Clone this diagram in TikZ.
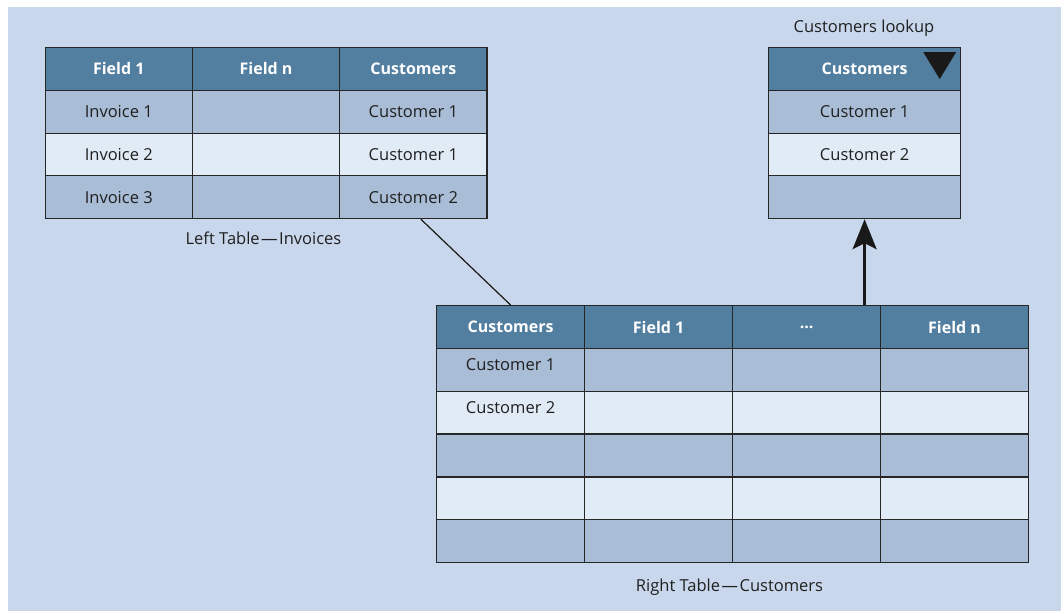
\documentclass[tikz,border=0pt]{standalone}
\usepackage{fontspec}
\setmainfont{Open Sans}
\usetikzlibrary{arrows.meta,calc}
\definecolor{bgblue}{HTML}{C8D7EC}
\definecolor{headblue}{HTML}{527EA0}
\definecolor{rowdark}{HTML}{A9BDD6}
\definecolor{rowlight}{HTML}{E1EBF5}
\definecolor{gridline}{HTML}{262626}
\newcommand\threedots{...}
\newcommand\capdash{\kern1.5pt—\kern1.5pt}
\tikzset{
  cell/.style={draw=gridline, line width=1.2pt, anchor=north west, inner sep=0pt,
    font=\fontsize{16.5}{19}\selectfont, text=black!88},
  headcell/.style={cell, fill=headblue, text=white, font=\fontsize{16}{19}\selectfont\bfseries},
  darkcell/.style={cell, fill=rowdark},
  lightcell/.style={cell, fill=rowlight},
  caption/.style={font=\fontsize{16.5}{19}\selectfont, text=black!88, inner sep=0pt},
}
\begin{document}
\begin{tikzpicture}[x=1pt,y=-1pt]
\useasboundingbox (0,0) rectangle (1061,611);
\fill[bgblue] (8,7) rectangle (1061,611);

% Left table: invoices
\foreach \c/\t [count=\i] in {0/Field 1,1/Field n,2/Customers}
  \node[headcell, minimum width=147.3pt, minimum height=42.75pt] (L1\i) at (44.5+147.3*\c,47) {\t};
\foreach \r/\s [count=\j from 2] in {1/darkcell,2/lightcell,3/darkcell}
  \foreach \c [count=\i] in {0,1,2}
    \node[\s, minimum width=147.3pt, minimum height=42.75pt] (L\j\i) at (44.5+147.3*\c,47+42.75*\r) {};
\node[caption] (li1) at (L21) {Invoice 1};
\node[caption] (li2) at (L31) {Invoice 2};
\node[caption] (li3) at (L41) {Invoice 3};
\node[caption] (lc1) at (L23) {Customer 1};
\node[caption] (lc2) at (L33) {Customer 1};
\node[caption] (lc3) at (L43) {Customer 2};
\node[caption] (lcap) at (263.5,238) {Left Table\capdash Invoices};

% Lookup list
\node[headcell, minimum width=192pt, minimum height=42.75pt] (K1) at (768,47) {Customers};
\node[darkcell, minimum width=192pt, minimum height=42.75pt] (K2) at (768,89.75) {Customer 1};
\node[lightcell, minimum width=192pt, minimum height=42.75pt] (K3) at (768,132.5) {Customer 2};
\node[darkcell, minimum width=192pt, minimum height=42.75pt] (K4) at (768,175.25) {};
\node[caption] (kcap) at (864,28) {Customers lookup};
\fill[black!90] ([shift={(-38,5)}]K1.north east) -- ([shift={(-5,5)}]K1.north east)
  -- ([shift={(-21.5,32)}]K1.north east) -- cycle;

% Right table: customers
\foreach \c/\t [count=\i] in {0/Customers,1/Field 1,2/\threedots,3/Field n}
  \node[headcell, minimum width=148pt, minimum height=42.83pt] (R1\i) at (436+148*\c,305) {\t};
\foreach \r/\s [count=\j from 2] in {1/darkcell,2/lightcell,3/darkcell,4/lightcell,5/darkcell}
  \foreach \c [count=\i] in {0,1,2,3}
    \node[\s, minimum width=148pt, minimum height=42.83pt] (R\j\i) at (436+148*\c,305+42.83*\r) {};
\node[caption] (rc1) at ([yshift=5]R21.center) {Customer 1};
\node[caption] (rc2) at ([yshift=5]R31.center) {Customer 2};
\node[caption] (rcap) at (729.5,587) {Right Table\capdash Customers};

% Connectors
\draw[line width=1.2pt, black!90] ([xshift=7.5]L43.south) -- (R11.north);
\draw[line width=2.6pt, black!90, -{Stealth[length=30pt,width=24pt,inset=6pt]}]
  (K4.south |- R13.north) -- (K4.south);
\end{tikzpicture}
\end{document}
